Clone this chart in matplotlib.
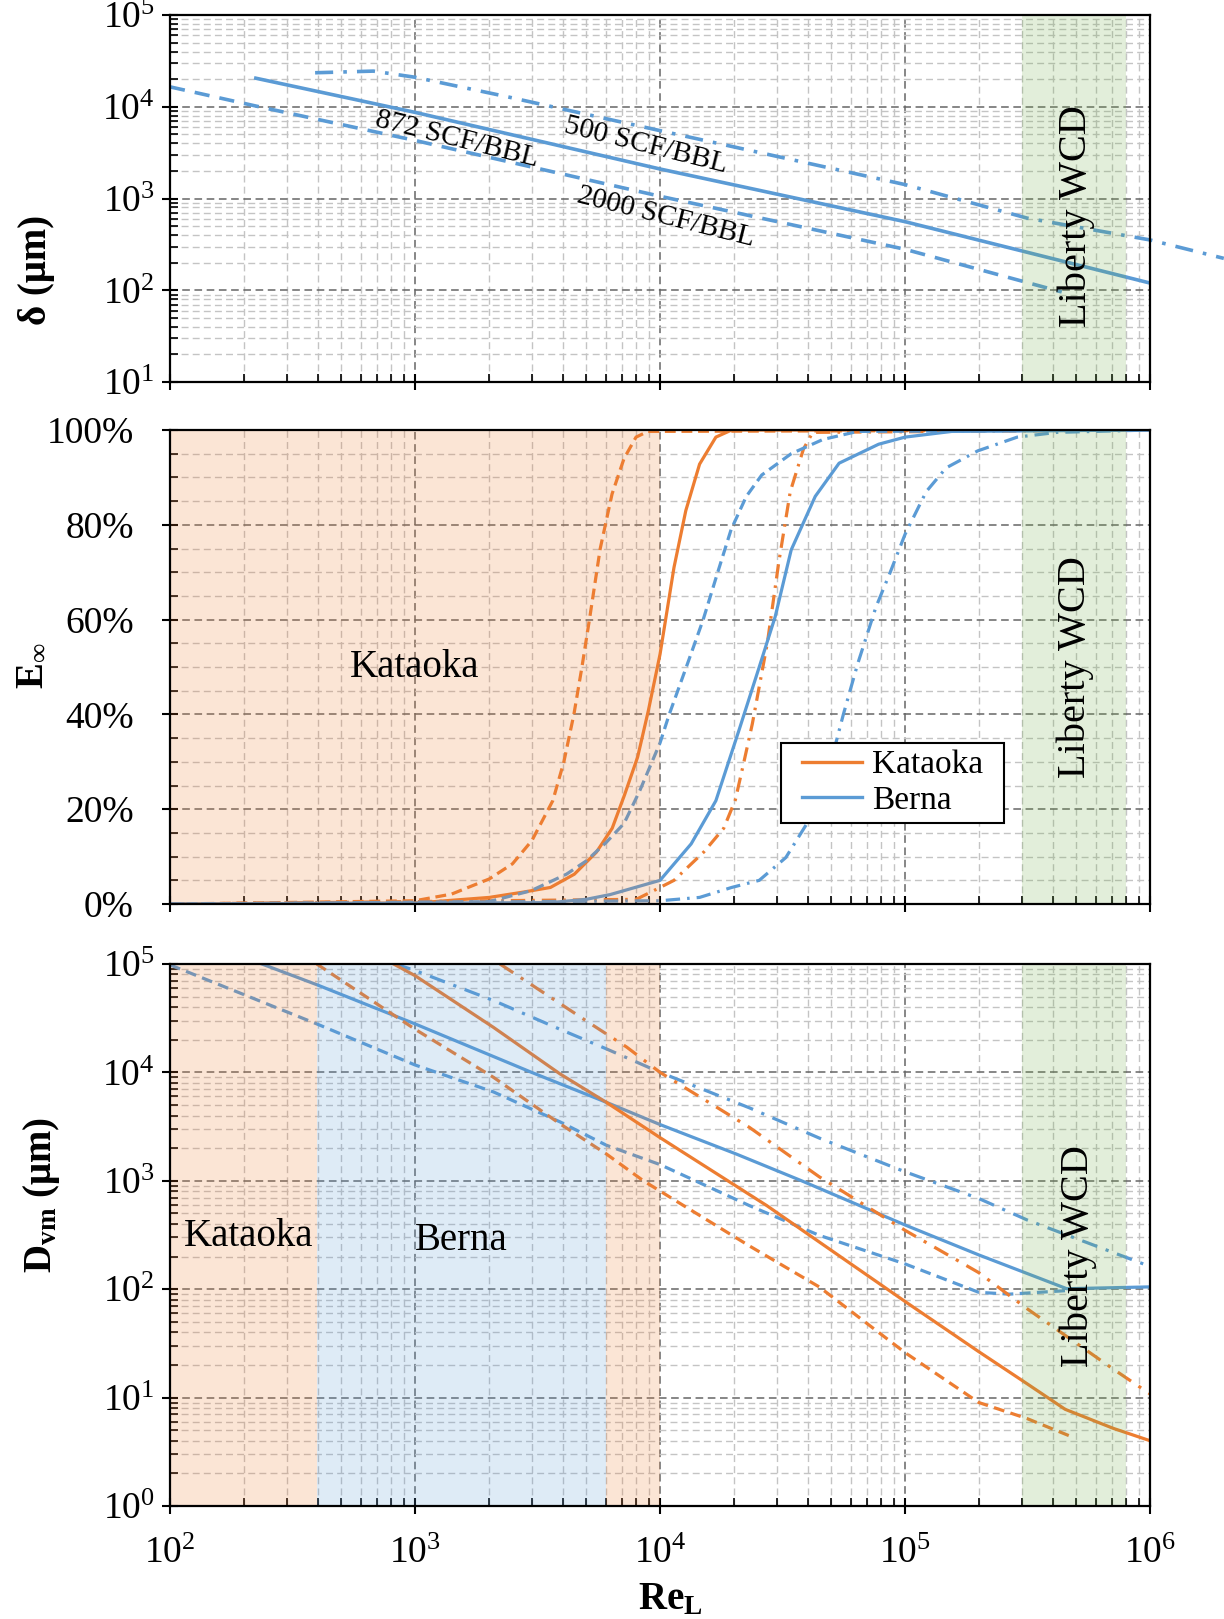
import numpy as np
import matplotlib
matplotlib.use('Agg')
import matplotlib.pyplot as plt
from matplotlib.ticker import LogLocator, MultipleLocator, FuncFormatter, NullFormatter
from matplotlib.lines import Line2D
from matplotlib.patches import Rectangle

plt.rcParams['font.family'] = ['Liberation Serif', 'DejaVu Serif']
plt.rcParams['mathtext.fontset'] = 'custom'
plt.rcParams['mathtext.rm'] = 'Liberation Serif'
plt.rcParams['mathtext.it'] = 'Liberation Serif:italic'
plt.rcParams['mathtext.bf'] = 'Liberation Serif:bold'

orange = '#ED7D31'
blue = '#5B9BD5'
green = '#70AD47'

# shaded ranges of Re_L
liberty_range = [3e5, 8e5]
kataoka_range_mid = [1e2, 1e4]
kataoka_low = [1e2, 397]
berna_range = [397, 6030]
kataoka_high = [6030, 1e4]

# ---- top panel: delta (um) ----
d872_re = [224, 1e3, 1e4, 1e5, 1e6]
d872 = [2.05e4, 8.7e3, 2.1e3, 560, 120]
d2000_re = [100, 224, 1e3, 1e4, 1e5, 4.36e5]
d2000 = [1.65e4, 1.02e4, 4.3e3, 1.06e3, 280, 96]
d500_re = [391, 676, 1e3, 2370, 1e4, 1e5, 3.15e5, 1e6, 2e6]
d500 = [2.35e4, 2.45e4, 2.1e4, 1.29e4, 5.5e3, 1.42e3, 612, 354, 223]

# ---- middle panel: E_inf (%) ----
ek_dash_re = [100, 1000, 1410, 2010, 2500, 3000, 3650, 4050, 4450, 4800, 5150, 5700, 6370, 7130, 7980, 8930, 1e6]
ek_dash = [0, 0.7, 2.1, 5.3, 8.5, 13.4, 21.8, 30, 40, 50, 60, 75, 86.5, 94, 98.5, 99.7, 100]
ek_sol_re = [100, 1000, 2010, 2750, 3570, 4470, 5490, 6380, 7160, 8100, 8960, 1e4, 11400, 12740, 14500, 16900, 19600, 1e6]
ek_sol = [0, 0.2, 1.4, 2.5, 3.5, 6.3, 10.9, 16, 23, 31, 40.8, 52.7, 71, 83, 92.8, 98.5, 100, 100]
ek_dd_re = [100, 8000, 1e4, 11400, 15100, 18200, 20300, 22000, 23800, 27400, 30500, 34000, 38500, 42000, 1e6]
ek_dd = [0, 1, 3.5, 5, 11, 16, 22, 30, 38, 55, 72, 87, 96, 99.5, 100]
eb_dash_re = [100, 2000, 2970, 4150, 5000, 6030, 7130, 8280, 1e4, 10900, 12800, 15000, 17200, 19500, 22500, 26000, 34300, 46200, 64000, 1e6]
eb_dash = [0, 0.5, 2.8, 6.3, 9.1, 13, 17, 24, 34, 40, 50, 60, 70, 79, 86, 90.5, 95, 98, 99.7, 100]
eb_sol_re = [100, 3570, 5000, 6260, 1e4, 13400, 16900, 21100, 25400, 29500, 34300, 43000, 53800, 78000, 1e5, 155000, 1e6]
eb_sol = [0, 0.3, 1, 2, 5, 12.7, 21.8, 37, 50, 60.6, 74.7, 86, 93, 97, 98.5, 99.7, 100]
eb_dd_re = [100, 1e4, 14500, 19600, 25400, 32600, 40900, 46000, 51000, 56000, 64000, 76000, 87000, 1e5, 122000, 147000, 198000, 287000, 417000, 1e6]
eb_dd = [0, 0.7, 1.4, 3.5, 5, 9.8, 18, 25, 32, 40, 50.6, 62.6, 70, 78, 87, 92, 95.6, 98.5, 99.5, 100]

# ---- bottom panel: D_vm (um) ----
db_sol_re = [237, 397, 1000, 2990, 6030, 1e4, 20400, 37800, 1e5, 2e5, 457000, 1e6]
db_sol = [1e5, 6.44e4, 2.8e4, 1e4, 5.3e3, 3.3e3, 1.77e3, 1.0e3, 391, 207, 101, 105]
db_dash_re = [100, 397, 1000, 2090, 3900, 6030, 1e4, 23200, 44600, 1e5, 2e5, 267000, 457000]
db_dash = [9.8e4, 2.8e4, 1.17e4, 6.6e3, 3.5e3, 2.13e3, 1.41e3, 589, 314, 171, 93.5, 90, 97]
db_dd_re = [829, 1000, 2090, 3900, 6030, 1e4, 23200, 44600, 1e5, 2e5, 315000, 1e6]
db_dd = [1e5, 8.7e4, 4.6e4, 2.5e4, 1.65e4, 1e4, 4.7e3, 2.48e3, 1.21e3, 686, 435, 162]
dk_sol_re = [817, 1000, 2090, 3900, 6030, 1e4, 27300, 1e5, 2e5, 315000, 450000, 708000, 1e6]
dk_sol = [1e5, 7.8e4, 2.6e4, 9.7e3, 5.3e3, 2.5e3, 589, 77, 26.5, 13.4, 7.8, 5.2, 4.0]
dk_dash_re = [397, 1000, 2090, 3900, 6030, 8550, 12100, 23200, 44600, 1e5, 2e5, 315000, 473000]
dk_dash = [1e5, 2.5e4, 9e3, 3.36e3, 1.77e3, 1e3, 616, 250, 105, 26, 9.0, 6.4, 4.4]
dk_dd_re = [2220, 5350, 7310, 1e4, 23200, 44600, 1e5, 2e5, 315000, 708000, 1e6]
dk_dd = [1e5, 2.7e4, 1.71e4, 1e4, 3.1e3, 1.09e3, 349, 142, 66, 18.3, 10.8]

fig = plt.figure(figsize=(12.24, 16.19), dpi=100)
L, W = 0.1389, 0.8007
ax1 = fig.add_axes([L, 0.764, W, 0.2267])
ax2 = fig.add_axes([L, 0.4416, W, 0.2928])
ax3 = fig.add_axes([L, 0.0698, W, 0.3348])

major_ls = (0, (5, 3))


def setup(ax, logy):
    ax.set_xscale('log')
    ax.set_xlim(1e2, 1e6)
    ax.xaxis.set_major_locator(LogLocator(base=10, numticks=10))
    ax.xaxis.set_minor_locator(LogLocator(base=10, subs=np.arange(2, 10), numticks=50))
    ax.xaxis.set_minor_formatter(NullFormatter())
    if logy:
        ax.set_yscale('log')
        ax.yaxis.set_major_locator(LogLocator(base=10, numticks=10))
        ax.yaxis.set_minor_locator(LogLocator(base=10, subs=np.arange(2, 10), numticks=50))
        ax.yaxis.set_minor_formatter(NullFormatter())
    ax.grid(which='major', ls=major_ls, color='#666666', lw=1.1)
    ax.grid(which='minor', ls=major_ls, color='#c4c4c4', lw=1.0)
    ax.tick_params(which='major', direction='inout', length=12, width=1.5, labelsize=27, pad=5)
    ax.tick_params(which='minor', direction='in', length=6, width=1.2)
    ax.tick_params(axis='x', which='major', pad=16)
    for s in ax.spines.values():
        s.set_linewidth(1.6)


setup(ax1, True)
setup(ax2, False)
setup(ax3, True)

solid = '-'
dash_top = (0, (4.2, 2.8))
dd_top = (0, (5, 2.8, 1, 2.8))
dash_mid = (0, (3.4, 1.8))
dd_mid = (0, (4.5, 2.2, 0.8, 2.2))
dash_bot = (0, (3.4, 2.0))
dd_bot = (0, (5, 2.8, 1, 2.8))
lw_top, lw_mid, lw_bot = 2.6, 2.3, 2.3

# top panel
ax1.set_ylim(10, 1e5)
ax1.plot(d872_re, d872, color=blue, lw=lw_top, ls=solid)
ax1.plot(d2000_re, d2000, color=blue, lw=lw_top, ls=dash_top)
ax1.plot(d500_re, d500, color=blue, lw=lw_top, ls=dd_top, clip_on=False)
ax1.axvspan(*liberty_range, color=green, alpha=0.2, lw=0, zorder=2.5)
ax1.tick_params(labelbottom=False)
ax1.text(1483, 4.45e3, '872 SCF/BBL', fontsize=21, rotation=-14, ha='center', va='center', zorder=4)
ax1.text(8770, 3.82e3, '500 SCF/BBL', fontsize=21, rotation=-14, ha='center', va='center', zorder=4)
ax1.text(1.06e4, 627, '2000 SCF/BBL', fontsize=21, rotation=-14, ha='center', va='center', zorder=4)
ax1.text(5e5, 650, 'Liberty WCD', fontsize=29, rotation=90, ha='center', va='center', zorder=4)

# middle panel
ax2.set_ylim(0, 100)
ax2.yaxis.set_major_locator(MultipleLocator(20))
ax2.yaxis.set_minor_locator(MultipleLocator(5))
ax2.yaxis.set_major_formatter(FuncFormatter(lambda v, p: '%d%%' % v))
ax2.tick_params(axis='y', which='major', pad=20)
ax2.plot(ek_dash_re, ek_dash, color=orange, lw=lw_mid, ls=dash_mid)
ax2.plot(ek_sol_re, ek_sol, color=orange, lw=lw_mid, ls=solid)
ax2.plot(ek_dd_re, ek_dd, color=orange, lw=lw_mid, ls=dd_mid)
ax2.plot(eb_dash_re, eb_dash, color=blue, lw=lw_mid, ls=dash_mid)
ax2.plot(eb_sol_re, eb_sol, color=blue, lw=lw_mid, ls=solid)
ax2.plot(eb_dd_re, eb_dd, color=blue, lw=lw_mid, ls=dd_mid)
ax2.axvspan(*kataoka_range_mid, color=orange, alpha=0.2, lw=0, zorder=2.5)
ax2.axvspan(*liberty_range, color=green, alpha=0.2, lw=0, zorder=2.5)
ax2.tick_params(labelbottom=False)
ax2.text(1e3, 50, 'Kataoka', fontsize=28, ha='center', va='center', zorder=4)
ax2.text(4.95e5, 50, 'Liberty WCD', fontsize=29, rotation=90, ha='center', va='center', zorder=4)
ax2.add_patch(Rectangle((0.6235, 0.172), 0.227, 0.167, transform=ax2.transAxes,
                        facecolor='white', edgecolor='black', lw=1.5, zorder=5))
handles = [Line2D([], [], color=orange, lw=2.4), Line2D([], [], color=blue, lw=2.4)]
leg = ax2.legend(handles, ['Kataoka', 'Berna'], loc='center', bbox_to_anchor=(0.737, 0.2555),
                 fontsize=24, frameon=False, borderpad=0.0, handlelength=1.8,
                 handletextpad=0.3, labelspacing=0.15)
leg.set_zorder(6)

# bottom panel
ax3.set_ylim(1, 1e5)
ax3.plot(db_sol_re, db_sol, color=blue, lw=lw_bot, ls=solid)
ax3.plot(db_dash_re, db_dash, color=blue, lw=lw_bot, ls=dash_bot)
ax3.plot(db_dd_re, db_dd, color=blue, lw=lw_bot, ls=dd_bot)
ax3.plot(dk_sol_re, dk_sol, color=orange, lw=lw_bot, ls=solid)
ax3.plot(dk_dash_re, dk_dash, color=orange, lw=lw_bot, ls=dash_bot)
ax3.plot(dk_dd_re, dk_dd, color=orange, lw=lw_bot, ls=dd_bot)
ax3.axvspan(*kataoka_low, color=orange, alpha=0.2, lw=0, zorder=2.5)
ax3.axvspan(*berna_range, color=blue, alpha=0.2, lw=0, zorder=2.5)
ax3.axvspan(*kataoka_high, color=orange, alpha=0.2, lw=0, zorder=2.5)
ax3.axvspan(*liberty_range, color=green, alpha=0.2, lw=0, zorder=2.5)
ax3.text(210, 305, 'Kataoka', fontsize=28, ha='center', va='center', zorder=4)
ax3.text(1550, 280, 'Berna', fontsize=28, ha='center', va='center', zorder=4)
ax3.text(5.1e5, 200, 'Liberty WCD', fontsize=29, rotation=90, ha='center', va='center', zorder=4)

# axis labels
fig.text(0.030, 0.833, 'δ (μm)', fontsize=28, fontweight='bold', rotation=90, ha='center', va='center')
fig.text(0.026, 0.589, r'$\mathbf{E}_{\infty}$', fontsize=28, rotation=90, ha='center', va='center')
fig.text(0.034, 0.262, r'$\mathbf{D}_{\mathbf{vm}}$ (μm)', fontsize=28, fontweight='bold', rotation=90,
         ha='center', va='center')
fig.text(0.548, 0.012, r'$\mathbf{Re}_{\mathbf{L}}$', fontsize=28, ha='center', va='center')

fig.savefig('out.png', dpi=100)
